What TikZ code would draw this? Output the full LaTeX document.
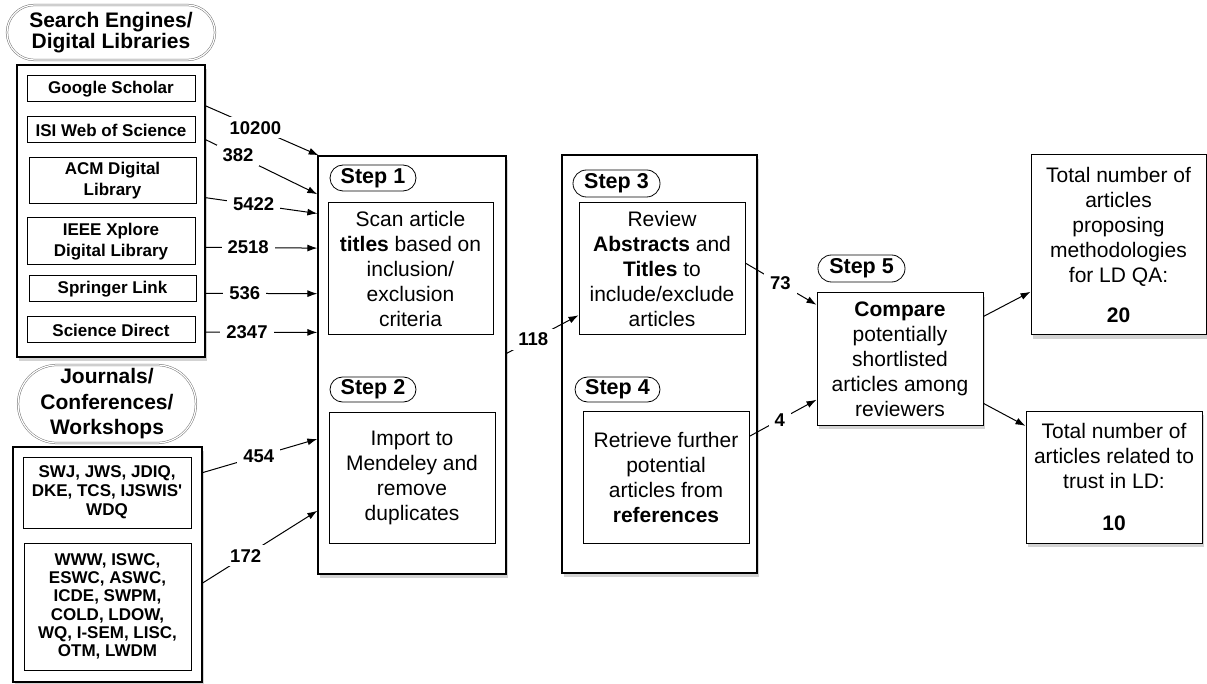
\documentclass[tikz,border=0pt]{standalone}
\usepackage{fontspec}
\setmainfont{Liberation Sans}
\usetikzlibrary{shapes.misc,shadows,arrows.meta}

\tikzset{
  panel/.style={draw, line width=1.3pt, fill=white, inner sep=0pt,
    drop shadow={shadow xshift=1.5pt, shadow yshift=-4pt, opacity=0.35}},
  srcbox/.style={draw, line width=1pt, fill=white, inner sep=0pt, align=center,
    font=\bfseries\fontsize{17}{21}\selectfont},
  stepbox/.style={draw, line width=1pt, fill=white, inner sep=0pt, align=center,
    font=\fontsize{21}{25}\selectfont},
  pill/.style={draw, rounded rectangle, line width=0.8pt, inner sep=0pt,
    font=\bfseries\fontsize{21.5}{25}\selectfont},
  oval/.style={draw=black!55, double, double distance=1.2pt, line width=0.5pt,
    rounded rectangle, inner sep=0pt, align=center},
  count/.style={fill=white, inner xsep=6pt, inner ysep=4pt,
    font=\bfseries\fontsize{18.5}{20}\selectfont},
  flow/.style={-{Latex[length=10pt,width=7pt]}, line width=1pt},
}

\begin{document}
\begin{tikzpicture}[x=1pt, y=-1pt]
        \useasboundingbox (0,0) rectangle (1207,684);

        % Search engines / digital libraries
        \node[oval, minimum width=208, minimum height=55, font=\bfseries\fontsize{21}{21.7}\selectfont]
            (seh) at (111,32.5) {Search Engines/\\Digital Libraries};
        \node[panel, minimum width=188, minimum height=292] (se) at (111,211) {};
        \node[srcbox, minimum width=168, minimum height=26] (gs) at (111,89) {Google Scholar};
        \node[srcbox, minimum width=168, minimum height=26] (isi) at (111,130) {ISI Web of Science};
        \node[srcbox, minimum width=167, minimum height=46] (acm) at (112.5,181) {ACM Digital\\Library};
        \node[srcbox, minimum width=168, minimum height=47] (ieee) at (111,241.5) {IEEE Xplore\\Digital Library};
        \node[srcbox, minimum width=167, minimum height=26] (spr) at (112.5,289) {Springer Link};
        \node[srcbox, minimum width=168, minimum height=26] (sd) at (111,330) {Science Direct};

        % Journals / conferences / workshops
        \node[oval, minimum width=170, minimum height=78, font=\bfseries\fontsize{21}{25.5}\selectfont]
            (jch) at (107,404) {Journals/\\Conferences/\\Workshops};
        \node[panel, minimum width=189, minimum height=235] (jc) at (107.5,564.5) {};
        \node[srcbox, minimum width=168, minimum height=71, font=\bfseries\fontsize{17}{19}\selectfont]
            (jnl) at (107,492.5) {SWJ, JWS, JDIQ,\\DKE, TCS, IJSWIS\textquotesingle\\WDQ};
        \node[srcbox, minimum width=167, minimum height=127, font=\bfseries\fontsize{17}{18.3}\selectfont]
            (conf) at (107.5,606.5) {WWW, ISWC,\\ESWC, ASWC,\\ICDE, SWPM,\\COLD, LDOW,\\WQ, I-SEM, LISC,\\OTM, LWDM};

        % Steps 1 and 2
        \node[panel, minimum width=188, minimum height=418] (s12) at (412,365) {};
        \node[pill, minimum width=86, minimum height=26] (p1) at (373,178) {Step 1};
        \node[stepbox, minimum width=165, minimum height=132] (b1) at (410.5,269)
            {Scan article\\\textbf{titles} based on\\inclusion/\\exclusion\\criteria};
        \node[pill, minimum width=86, minimum height=25] (p2) at (373,389.5) {Step 2};
        \node[stepbox, minimum width=166, minimum height=131] (b2) at (412,477.5)
            {Import to\\Mendeley and\\remove\\duplicates};

        % Steps 3 and 4
        \node[panel, minimum width=195, minimum height=418] (s34) at (659.5,364) {};
        \node[pill, minimum width=87, minimum height=27] (p3) at (616.5,183.5) {Step 3};
        \node[stepbox, minimum width=166, minimum height=132] (b3) at (662,269)
            {Review\\\textbf{Abstracts} and\\\textbf{Titles} to\\include/exclude\\articles};
        \node[pill, minimum width=85, minimum height=25] (p4) at (617.5,389.5) {Step 4};
        \node[stepbox, minimum width=166, minimum height=132] (b4) at (666,477)
            {Retrieve further\\potential\\articles from\\\textbf{references}};

        % Step 5 and results
        \node[pill, minimum width=87, minimum height=27] (p5) at (861.5,268.5) {Step 5};
        \node[stepbox, panel, line width=1pt, minimum width=166, minimum height=132] (b5) at (900,359)
            {\textbf{Compare}\\potentially\\shortlisted\\articles among\\reviewers};
        \node[stepbox, panel, line width=1pt, minimum width=175, minimum height=180] (r20) at (1118.5,245)
            {Total number of\\articles\\proposing\\methodologies\\for LD QA:\\[15pt]\textbf{20}};
        \node[stepbox, panel, line width=1pt, minimum width=176, minimum height=132] (r10) at (1114,477)
            {Total number of\\articles related to\\trust in LD:\\[17pt]\textbf{10}};

        % Counts into step 1
        \draw[flow] (se.48) -- node[count, pos=0.44] {10200} (s12.114.65);
        \draw[flow] (se.37.1) -- node[count, pos=0.29] {382} (s12.119.7);
        \draw[flow] (se.8.5) -- node[count, pos=0.43] {5422} (s12.122.4);
        \draw[flow] (se.-21) -- node[count, pos=0.38] {2518} (s12.129.4);
        \draw[flow] (se.-41.4) -- node[count, pos=0.35] {536} (s12.143.8);
        \draw[flow] (se.-52.4) -- node[count, pos=0.37] {2347} (s12.161.2);
        \draw[flow] (jc.44.1) -- node[count, pos=0.49] {454} (s12.218.8);
        \draw[flow] (jc.-11.1) -- node[count, pos=0.375] {172} (s12.237.1);

        % Between steps
        \draw[flow] (s12.7.2) -- node[count, pos=0.37] {118} (b3.209.5);
        \draw[flow] (b3.4.7) -- node[count, pos=0.49] {73} (b5.147.8);
        \draw[flow] (b4.26.8) -- node[count, pos=0.45] {4} (b5.206.8);

        % Results
        \draw[flow] (b5.27.6) -- (r20.208.5);
        \draw[flow] (b5.-28.7) -- (r10.150.4);
\end{tikzpicture}
\end{document}
